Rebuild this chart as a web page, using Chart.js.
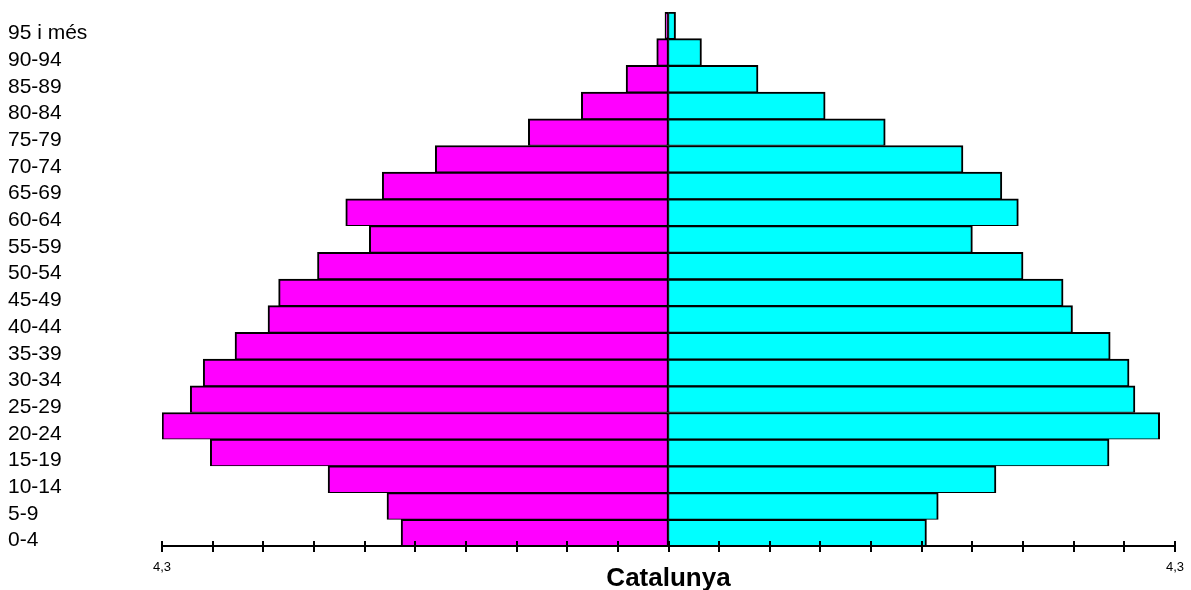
<!DOCTYPE html>
<html lang="ca">
<head>
    <meta charset="UTF-8">
    <title>Piràmide de població - Catalunya</title>
    <script src="https://cdn.jsdelivr.net/npm/chart.js"></script>
    <style>
        html, body { margin: 0; padding: 0; background: #ffffff; }
        .chart-container { width: 1191px; height: 590px; position: relative; }
    </style>
</head>
<body>
    <div class="chart-container">
        <canvas id="pyramidChart"></canvas>
    </div>

    <script>
        // Age groups, top to bottom
        const ageGroups = ['95 i més', '90-94', '85-89', '80-84', '75-79', '70-74', '65-69', '60-64',
            '55-59', '50-54', '45-49', '40-44', '35-39', '30-34', '25-29', '20-24',
            '15-19', '10-14', '5-9', '0-4'];

        // Left side (magenta), percent of population
        const leftValues = [0.03, 0.10, 0.36, 0.74, 1.19, 1.98, 2.43, 2.74, 2.54, 2.98,
            3.31, 3.40, 3.68, 3.95, 4.06, 4.30, 3.89, 2.89, 2.39, 2.27];

        // Right side (cyan), percent of population
        const rightValues = [0.06, 0.28, 0.76, 1.33, 1.84, 2.50, 2.83, 2.97, 2.58, 3.01,
            3.35, 3.43, 3.75, 3.91, 3.96, 4.17, 3.74, 2.78, 2.29, 2.19];

        const axisLimit = 4.3;
        const tickCount = 10; // ticks per side

        const axisPlugin = {
            id: 'axisLine',
            afterDraw(chart) {
                const ctx = chart.ctx;
                const xs = chart.scales.x;
                const y = chart.chartArea.bottom;
                ctx.save();
                ctx.strokeStyle = '#000';
                ctx.lineWidth = 2;
                ctx.beginPath();
                ctx.moveTo(xs.getPixelForValue(-axisLimit), y);
                ctx.lineTo(xs.getPixelForValue(axisLimit), y);
                ctx.stroke();
                xs.ticks.forEach(t => {
                    const x = Math.round(xs.getPixelForValue(t.value));
                    ctx.beginPath();
                    ctx.moveTo(x, y - 5);
                    ctx.lineTo(x, y + 6);
                    ctx.stroke();
                });
                ctx.restore();
            }
        };

        const ctx = document.getElementById('pyramidChart').getContext('2d');
        new Chart(ctx, {
            type: 'bar',
            data: {
                labels: ageGroups,
                datasets: [{
                    label: 'Esquerra',
                    data: leftValues.map(v => -v),
                    backgroundColor: '#ff00ff',
                    borderColor: '#000000',
                    borderWidth: { top: 2, bottom: 1, left: 2, right: 2 },
                    borderSkipped: false
                }, {
                    label: 'Dreta',
                    data: rightValues,
                    backgroundColor: '#00ffff',
                    borderColor: '#000000',
                    borderWidth: { top: 2, bottom: 1, left: 1, right: 2 },
                    borderSkipped: false
                }]
            },
            options: {
                indexAxis: 'y',
                responsive: true,
                maintainAspectRatio: false,
                animation: false,
                datasets: {
                    bar: { barPercentage: 1, categoryPercentage: 1 }
                },
                layout: {
                    padding: { left: 8, right: 16, top: 12, bottom: 0 }
                },
                scales: {
                    x: {
                        stacked: true,
                        min: -axisLimit,
                        max: axisLimit,
                        afterBuildTicks: scale => {
                            const ticks = [];
                            for (let i = -tickCount; i <= tickCount; i++) {
                                ticks.push({ value: i * axisLimit / tickCount });
                            }
                            scale.ticks = ticks;
                        },
                        afterFit: scale => {
                            scale.height = 44;
                            scale.paddingLeft = 0;
                            scale.paddingRight = 0;
                        },
                        grid: { display: false, drawTicks: false },
                        border: { display: false },
                        ticks: {
                            autoSkip: false,
                            maxRotation: 0,
                            padding: 14,
                            color: '#000',
                            font: { family: 'Liberation Sans, Arial, sans-serif', size: 13 },
                            callback: function(value, index, ticks) {
                                if (index === 0 || index === ticks.length - 1) {
                                    return Math.abs(value).toFixed(1).replace('.', ',');
                                }
                                return '';
                            }
                        },
                        title: {
                            display: true,
                            text: 'Catalunya',
                            color: '#000',
                            padding: { top: 0, bottom: -2 },
                            font: { family: 'Liberation Sans, Arial, sans-serif', size: 26, weight: 'bold', lineHeight: 1 }
                        }
                    },
                    y: {
                        stacked: true,
                        afterFit: scale => {
                            scale.width = 154;
                            scale.paddingTop = 0;
                            scale.paddingBottom = 0;
                        },
                        grid: { display: false, drawTicks: false },
                        border: { display: false },
                        ticks: {
                            autoSkip: false,
                            crossAlign: 'far',
                            labelOffset: 8,
                            padding: 0,
                            color: '#000',
                            font: { family: 'Liberation Sans, Arial, sans-serif', size: 21 }
                        }
                    }
                },
                plugins: {
                    legend: { display: false },
                    tooltip: { enabled: false }
                }
            },
            plugins: [axisPlugin]
        });
    </script>
</body>
</html>
